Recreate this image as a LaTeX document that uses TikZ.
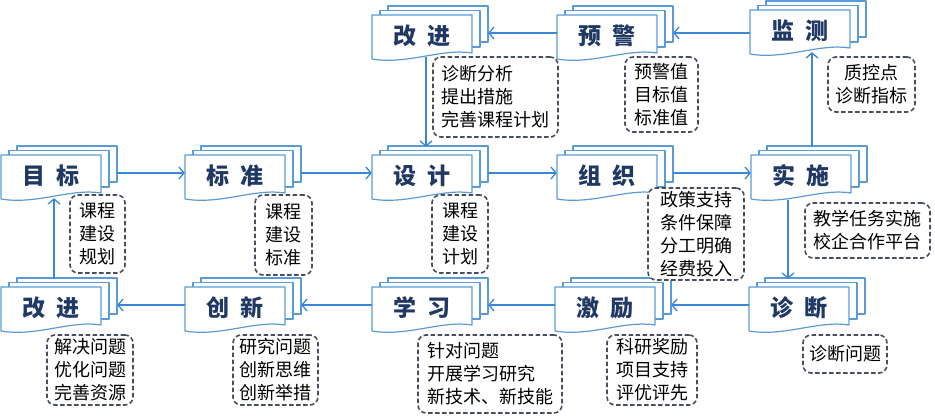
\documentclass[tikz,border=0pt]{standalone}
\usepackage{fontspec}
\newfontfamily\cjk{Noto Sans CJK SC}
\usetikzlibrary{arrows.meta}
\definecolor{docblue}{HTML}{5B9BD5}
\definecolor{arrblue}{HTML}{3A87DA}
\definecolor{navy}{HTML}{1F3864}
\definecolor{notegray}{HTML}{474F5E}
\tikzset{
  docln/.style={draw=docblue, line width=1.2pt, fill=white, line join=round},
  lbl/.style={inner sep=0pt, minimum width=100pt, minimum height=40pt, text=navy,
    font=\cjk\bfseries\fontsize{23}{25}\selectfont},
  arr/.style={draw=arrblue, line width=1.4pt, -{Straight Barb[length=5pt,width=12pt,line width=1.3pt]}},
  note/.style={draw=notegray, line width=1.6pt, dash pattern=on 4.5pt off 2.5pt, rounded corners=8pt,
    fill=white, text=black, inner sep=2pt, font=\cjk\fontsize{18}{23}\selectfont},
}
\newcommand\mdoc[4]{%
  \begin{scope}[shift={(#2,#3)}]
    \filldraw[docln] (16,-9) rectangle (116,27);
    \filldraw[docln] (8,-4.5) rectangle (108,32);
    \filldraw[docln] (0,0) -- (100,0) -- (100,38) .. controls (70,33) and (35,50) .. (0,44) -- cycle;
    \node[lbl] (#1) at (50,21) {#4};
  \end{scope}}
\begin{document}
\begin{tikzpicture}[x=1pt,y=-1pt]
\useasboundingbox (0,0) rectangle (935,420);
% top row
\mdoc{gjt}{372}{15}{改\hspace{11pt}进}
\mdoc{yj}{557}{15}{预\hspace{11pt}警}
\mdoc{jc}{750}{10}{监\hspace{11pt}测}
% middle row
\mdoc{mb}{1}{155}{目\hspace{11pt}标}
\mdoc{bz}{185}{155}{标\hspace{11pt}准}
\mdoc{sj}{372}{155}{设\hspace{11pt}计}
\mdoc{zz}{557}{155}{组\hspace{11pt}织}
\mdoc{ss}{751}{155}{实\hspace{11pt}施}
% bottom row
\mdoc{gjb}{1}{287}{改\hspace{11pt}进}
\mdoc{cx}{185}{287}{创\hspace{11pt}新}
\mdoc{xx}{372}{287}{学\hspace{11pt}习}
\mdoc{jl}{555}{287}{激\hspace{11pt}励}
\mdoc{zd}{749}{287}{诊\hspace{11pt}断}
% horizontal connectors
\draw[arr] ([xshift=16pt,yshift=3pt]mb.east) -- ([yshift=3pt]bz.west);
\draw[arr] ([xshift=16pt,yshift=3pt]bz.east) -- ([yshift=3pt]sj.west);
\draw[arr] ([xshift=16pt,yshift=3pt]sj.east) -- ([yshift=3pt]zz.west);
\draw[arr] ([xshift=16pt,yshift=3pt]zz.east) -- ([yshift=3pt]ss.west);
\coordinate (t1) at ([xshift=16pt,yshift=3pt]yj.east);
\draw[arr] (jc.west |- t1) -- (t1);
\draw[arr] ([yshift=3pt]yj.west) -- ([xshift=16pt,yshift=3pt]gjt.east);
\draw[arr] ([yshift=3pt]zd.west) -- ([xshift=16pt,yshift=3pt]jl.east);
\draw[arr] ([yshift=3pt]jl.west) -- ([xshift=16pt,yshift=3pt]xx.east);
\draw[arr] ([yshift=3pt]xx.west) -- ([xshift=16pt,yshift=3pt]cx.east);
\draw[arr] ([yshift=3pt]cx.west) -- ([xshift=16pt,yshift=3pt]gjb.east);
% vertical connectors
\coordinate (a1) at ([xshift=4pt,yshift=-1pt]gjt.south);
\coordinate (a1e) at ([yshift=9pt]sj.north);
\draw[arr] (a1) -- (a1 |- a1e);
\coordinate (a2) at ([xshift=11pt,yshift=9pt]ss.north);
\coordinate (a2e) at ([yshift=-1pt]jc.south);
\draw[arr] (a2) -- (a2 |- a2e);
\coordinate (a3) at ([xshift=-13pt,yshift=-4pt]ss.south);
\coordinate (a3e) at ([yshift=9pt]zd.north);
\draw[arr] (a3) -- (a3 |- a3e);
\coordinate (a4) at ([xshift=3pt,yshift=9pt]gjb.north);
\coordinate (a4e) at ([yshift=-2pt]mb.south);
\draw[arr] (a4) -- (a4 |- a4e);
% notes
\node[note, minimum width=55pt, minimum height=78pt, align=center] (n1) at (97.5,234) {课程\\建设\\规划};
\node[note, minimum width=57pt, minimum height=80pt, align=center] (n2) at (283.5,235) {课程\\建设\\标准};
\node[note, minimum width=56pt, minimum height=78pt, align=center] (n3) at (460,234) {课程\\建设\\计划};
\node[note, minimum width=96pt, minimum height=92pt, align=center] (n4) at (696,234) {政策支持\\条件保障\\分工明确\\经费投入};
\node[note, minimum width=125pt, minimum height=55pt, align=center] (n5) at (867.5,230.5) {教学任务实施\\校企合作平台};
\node[note, minimum width=84pt, minimum height=38pt, align=center] (n6) at (845,354) {诊断问题};
\node[note, minimum width=90pt, minimum height=70pt, align=center] (n7) at (652,370) {科研奖励\\项目支持\\评优评先};
\node[note, minimum width=144pt, minimum height=78pt, align=left] (n8) at (490,374) {针对问题\\开展学习研究\\新技术、新技能};
\node[note, minimum width=85pt, minimum height=70pt, align=center] (n9) at (275.5,370) {研究问题\\创新思维\\创新举措};
\node[note, minimum width=86pt, minimum height=70pt, align=center] (n10) at (90,370) {解决问题\\优化问题\\完善资源};
\node[note, minimum width=125pt, minimum height=80pt, align=left] (n11) at (495.5,97) {诊断分析\\提出措施\\完善课程计划};
\node[note, minimum width=73pt, minimum height=75pt, align=center] (n12) at (661.5,94.5) {预警值\\目标值\\标准值};
\node[note, minimum width=87pt, minimum height=55pt, align=center] (n13) at (871.5,84.5) {质控点\\诊断指标};
\end{tikzpicture}
\end{document}
